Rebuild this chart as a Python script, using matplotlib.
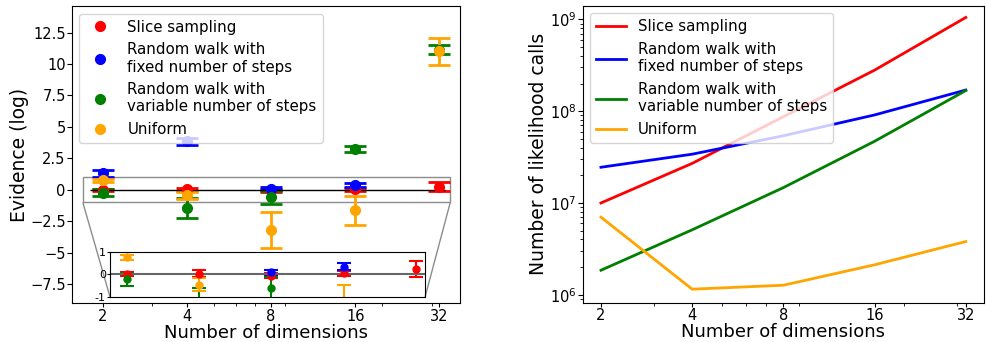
import numpy as np
import matplotlib
matplotlib.use("Agg")
import matplotlib.pyplot as plt
from matplotlib.lines import Line2D
from matplotlib.ticker import FuncFormatter, NullFormatter, NullLocator
from mpl_toolkits.axes_grid1.inset_locator import mark_inset

# data
dims = [2, 4, 8, 16, 32]
labels = ["Slice sampling",
          "Random walk with\nfixed number of steps",
          "Random walk with\nvariable number of steps",
          "Uniform"]
colors = ["red", "blue", "green", "orange"]

# evidence (log) and error
ev_slice = [0.02, 0.03, -0.05, 0.05, 0.25]
er_slice = [0.08, 0.15, 0.10, 0.12, 0.35]
ev_rw_fixed = [1.3, 3.85, 0.1, 0.35, np.nan]
er_rw_fixed = [0.27, 0.25, 0.12, 0.16, np.nan]
ev_rw_var = [-0.22, -1.45, -0.6, 3.25, 11.15]
er_rw_var = [0.3, 0.83, 0.5, 0.22, 0.33]
ev_uniform = [0.77, -0.45, -3.2, -1.62, 11.0]
er_uniform = [0.11, 0.3, 1.45, 1.15, 1.07]

# number of likelihood calls
calls_slice = [1.0e7, 2.7e7, 8.7e7, 2.8e8, 1.05e9]
calls_rw_fixed = [2.45e7, 3.4e7, 5.4e7, 9.1e7, 1.7e8]
calls_rw_var = [1.85e6, 5.1e6, 1.47e7, 4.7e7, 1.68e8]
calls_uniform = [7.0e6, 1.15e6, 1.27e6, 2.12e6, 3.8e6]

evs = [ev_slice, ev_rw_fixed, ev_rw_var, ev_uniform]
ers = [er_slice, er_rw_fixed, er_rw_var, er_uniform]
calls = [calls_slice, calls_rw_fixed, calls_rw_var, calls_uniform]

def fmt(v, pos):
    return ("%g" % v).replace("-", "\u2212")

fig = plt.figure(figsize=(9.86, 3.42), dpi=100)

# left: evidence
ax = fig.add_axes([0.073, 0.114, 0.3935, 0.868])
ax.set_xscale("log")
for e, s, c in zip(evs, ers, colors):
    ax.errorbar(dims, e, yerr=s, fmt="o", color=c, ms=7, elinewidth=2,
                capsize=8, capthick=2)
ax.hlines(0, 1.8, 33.6, color="k", lw=1)
ax.set_xlim(1.555, 37.9)
ax.set_ylim(-9, 14.6)
ax.set_xticks(dims)
ax.set_xticklabels([str(d) for d in dims])
ax.xaxis.set_minor_formatter(NullFormatter())
ax.set_yticks([-7.5, -5, -2.5, 0, 2.5, 5, 7.5, 10, 12.5])
ax.yaxis.set_major_formatter(FuncFormatter(fmt))
ax.tick_params(labelsize=10.5, pad=1)
ax.tick_params(axis="x", length=3)
ax.set_xlabel("Number of dimensions", fontsize=13, labelpad=0)
ax.set_ylabel("Evidence (log)", fontsize=13.5, labelpad=1)
handles = [Line2D([], [], marker="o", ls="none", color=c, ms=7) for c in colors]
ax.legend(handles, labels, loc="upper left", fontsize=10.8)

# inset
axins = fig.add_axes([0.1116, 0.1316, 0.3195, 0.1316])
axins.set_xscale("log")
for e, s, c in zip(evs, ers, colors):
    axins.errorbar(dims, e, yerr=s, fmt="o", color=c, ms=5, elinewidth=1.5,
                   capsize=5, capthick=1.5)
axins.axhline(0, color="0.4", lw=1.5)
axins.set_xlim(1.7, 35)
axins.set_ylim(-1, 1)
axins.xaxis.set_major_locator(NullLocator())
axins.xaxis.set_minor_locator(NullLocator())
axins.set_yticks([-1, 0, 1])
axins.set_yticklabels(["-1", "0", "1"])
axins.tick_params(labelsize=8, pad=1, length=2)
mark_inset(ax, axins, loc1=3, loc2=4, fc="none", ec="0.55")

# right: likelihood calls
ax2 = fig.add_axes([0.591, 0.115, 0.407, 0.8675])
for y, c, l in zip(calls, colors, labels):
    ax2.plot(dims, y, color=c, lw=2, label=l)
ax2.set_xscale("log")
ax2.set_yscale("log")
ax2.set_xticks(dims)
ax2.set_xticklabels([str(d) for d in dims])
ax2.xaxis.set_minor_formatter(NullFormatter())
ax2.set_ylim(8.2e5, 1.4e9)
ax2.tick_params(labelsize=10.5, pad=1)
ax2.tick_params(axis="x", length=3)
ax2.set_xlabel("Number of dimensions", fontsize=13, labelpad=0)
ax2.set_ylabel("Number of likelihood calls", fontsize=13.5, labelpad=1)
ax2.legend(loc="upper left", fontsize=10.8)

fig.savefig("out.png", dpi=100)
